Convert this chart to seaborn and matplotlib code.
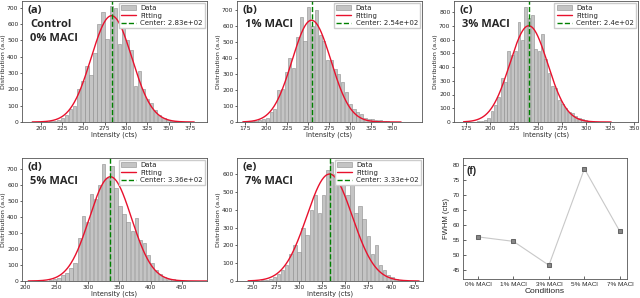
import numpy as np
import pandas as pd
import matplotlib.pyplot as plt
import seaborn as sns

sns.set_theme(style="ticks")
plt.rcParams["font.family"] = ["DejaVu Sans"]

# --- histogram data (bin start, bin width, counts per bin) ---
a_start, a_width = 190.0, 4.75
a_counts = [0, 1, 2, 3, 5, 8, 15, 25, 45, 80, 95, 200, 250, 340, 285, 420, 600,
            670, 510, 707, 700, 480, 590, 500, 440, 220, 310, 200, 140, 115, 75,
            45, 25, 15, 8, 4, 2, 1, 0, 0]

b_start, b_width = 172.0, 4.5
b_counts = [1, 3, 5, 8, 12, 20, 25, 65, 80, 200, 205, 310, 400, 335, 530, 655,
            505, 720, 600, 700, 540, 505, 385, 385, 330, 300, 250, 190, 110, 80,
            60, 50, 25, 20, 18, 15, 12, 8, 5, 3, 2, 1]

c_start, c_width = 172.0, 3.5
c_counts = [1, 1, 2, 3, 5, 8, 15, 30, 80, 125, 180, 320, 290, 515, 490, 520,
            730, 600, 840, 760, 775, 530, 520, 640, 455, 360, 260, 250, 160, 130,
            100, 70, 65, 45, 30, 20, 12, 8, 5, 3, 2, 1, 1, 0]

d_start, d_width = 205.0, 6.5
d_counts = [0, 1, 1, 2, 3, 5, 10, 20, 35, 50, 80, 110, 270, 405, 365, 545, 510,
            600, 730, 640, 715, 580, 470, 420, 365, 310, 390, 255, 240, 165, 110,
            70, 45, 25, 15, 10, 6, 3, 2, 1, 1, 0, 0, 0]

e_start, e_width = 245.0, 4.4
e_counts = [0, 1, 2, 3, 5, 10, 20, 40, 60, 90, 150, 200, 160, 300, 260, 400,
            480, 380, 480, 620, 665, 600, 670, 560, 480, 560, 380, 420, 350, 250,
            150, 200, 90, 60, 35, 20, 12, 6, 3, 1, 0, 0]

# --- gaussian fit parameters (center, amplitude, FWHM) ---
centers = [283.0, 254.0, 240.0, 336.0, 333.0]
amplitudes = [650, 635, 700, 650, 600]
center_labels = ["2.83e+02", "2.54e+02", "2.4e+02", "3.36e+02", "3.33e+02"]

# --- FWHM summary ---
conditions = ["0% MACl", "1% MACl", "3% MACl", "5% MACl", "7% MACl"]
fwhm = [56.0, 54.5, 46.5, 78.8, 57.8]

panel_tags = ["(a)", "(b)", "(c)", "(d)", "(e)"]
panel_names = ["Control\n0% MACl", "1% MACl", "3% MACl", "5% MACl", "7% MACl"]

fig = plt.figure(figsize=(6.4, 2.98), dpi=100)
W, H = 640.0, 298.0


def add_ax(x0, y0, x1, y1):
    return fig.add_axes([x0 / W, 1 - y1 / H, (x1 - x0) / W, (y1 - y0) / H])


axes = [
    add_ax(22, 1, 207, 122),
    add_ax(237, 1, 422, 122),
    add_ax(454, 1, 638, 122),
    add_ax(22, 158, 207, 281),
    add_ax(237, 158, 423, 281),
]
ax_f = add_ax(463, 158, 627, 279)

hists = [
    (a_start, a_width, a_counts),
    (b_start, b_width, b_counts),
    (c_start, c_width, c_counts),
    (d_start, d_width, d_counts),
    (e_start, e_width, e_counts),
]
xlims = [(178, 395), (165, 386), (162, 354), (195, 490), (233, 434)]
ylims = [740, 755, 880, 767, 690]
xticks = [np.arange(200, 376, 25), np.arange(175, 351, 25), np.arange(175, 351, 25),
          np.arange(200, 451, 50), np.arange(250, 426, 25)]

for i, ax in enumerate(axes):
    start, width, counts = hists[i]
    n = len(counts)
    mids = start + width * (np.arange(n) + 0.5)
    df = pd.DataFrame({"x": mids, "w": counts})
    sns.histplot(data=df, x="x", weights="w", binwidth=width,
                 binrange=(start, start + width * n), shrink=0.82,
                 color="#c4c4c4", edgecolor="#8c8c8c", linewidth=0.4,
                 alpha=1.0, ax=ax)

    sigma = fwhm[i] / 2.3548
    xs = np.linspace(start, start + width * n, 400)
    fit = pd.DataFrame({"x": xs,
                        "y": amplitudes[i] * np.exp(-(xs - centers[i]) ** 2 / (2 * sigma ** 2))})
    sns.lineplot(data=fit, x="x", y="y", color="#e8112d", linewidth=1.0, ax=ax)
    ax.axvline(centers[i], color="green", linestyle="--", linewidth=1.0)

    handles = [ax.patches[0], ax.lines[0], ax.lines[1]]
    labels = ["Data", "Fitting", f"Center: {center_labels[i]}"]
    ax.legend(handles, labels, loc="upper right", fontsize=5.0, frameon=True,
              handlelength=2.2, borderpad=0.3, labelspacing=0.2,
              handletextpad=0.6, borderaxespad=0.3, framealpha=1,
              edgecolor="#cccccc", fancybox=False)

    ax.set_xlim(*xlims[i])
    ax.set_ylim(0, ylims[i])
    ax.set_xticks(xticks[i])
    ax.set_yticks(np.arange(0, ylims[i], 100))
    ax.tick_params(labelsize=4.3, length=1.8, width=0.5, pad=0.8)
    ax.set_xlabel("Intensity (cts)", fontsize=4.8, labelpad=0.5)
    ax.set_ylabel("Distribution (a.u)", fontsize=4.6)
    ax.yaxis.set_label_coords(-0.088, 0.5)
    for s in ax.spines.values():
        s.set_linewidth(0.6)
        s.set_color("#555555")
    ax.text(0.03, 0.965, panel_tags[i], transform=ax.transAxes, fontsize=8,
            fontweight="bold", va="top", ha="left", family="Open Sans")
    ax.text(0.045, 0.85, panel_names[i], transform=ax.transAxes, fontsize=8,
            fontweight="bold", va="top", ha="left", family="Open Sans",
            linespacing=1.35)

# --- panel (f) ---
fw = pd.DataFrame({"cond": conditions, "fwhm": fwhm})
sns.lineplot(data=fw, x="cond", y="fwhm", color="#c8c8c8", linewidth=0.8,
             marker="s", markersize=2.5, markerfacecolor="#888888",
             markeredgecolor="#666666", ax=ax_f, sort=False)
ax_f.set_xlim(-0.42, 4.2)
ax_f.set_ylim(41.9, 82.4)
ax_f.set_yticks(np.arange(45, 81, 5))
ax_f.tick_params(direction="in", labelsize=4.6, length=2, width=0.5, pad=2)
for lab in ax_f.get_xticklabels() + ax_f.get_yticklabels():
    lab.set_family("Liberation Sans")
ax_f.set_xlabel("Conditions", fontsize=6, family="Liberation Sans", labelpad=1)
ax_f.set_ylabel("FWHM (cts)", fontsize=5.5, family="Liberation Sans", labelpad=2)
for s in ax_f.spines.values():
    s.set_linewidth(0.6)
    s.set_color("#555555")
ax_f.text(0.02, 0.93, "(f)", transform=ax_f.transAxes, fontsize=7.5,
          fontweight="bold", va="top", ha="left", family="Liberation Sans")

fig.savefig("out.png", dpi=100)
